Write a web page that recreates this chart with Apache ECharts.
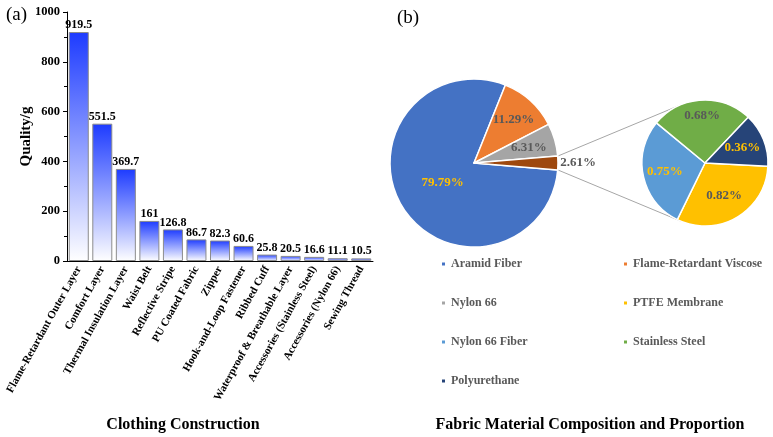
<!DOCTYPE html>
<html>
<head>
<meta charset="utf-8">
<script src="https://cdn.jsdelivr.net/npm/echarts@6/dist/echarts.min.js"></script>
<style>
  html, body { margin: 0; padding: 0; background: #fff; }
  #chart { width: 773px; height: 437px; }
</style>
</head>
<body>
<div id="chart"></div>
<script>
// (a) clothing construction mass, g
const categories = [
  'Flame-Retardant Outer Layer', 'Comfort Layer', 'Thermal Insulation Layer',
  'Waist Belt', 'Reflective Stripe', 'PU Coated Fabric', 'Zipper',
  'Hook-and-Loop Fastener', 'Ribbed Cuff', 'Waterproof & Breathable Layer',
  'Accessories (Stainless Steel)', 'Accessories (Nylon 66)', 'Sewing Thread'
]
const massValues = [919.5, 551.5, 369.7, 161, 126.8, 86.7, 82.3, 60.6, 25.8, 20.5, 16.6, 11.1, 10.5]

// (b) fabric composition, %
const mainNames = ['Aramid Fiber', 'Flame-Retardant Viscose', 'Nylon 66', 'Other']
const mainShares = [79.79, 11.29, 6.31, 2.61]
const subNames = ['PTFE Membrane', 'Nylon 66 Fiber', 'Stainless Steel', 'Polyurethane']
const subShares = [0.82, 0.75, 0.68, 0.36]

const legendLeft = ['Aramid Fiber', 'Nylon 66', 'Nylon 66 Fiber', 'Polyurethane']
const legendRight = ['Flame-Retardant Viscose', 'PTFE Membrane', 'Stainless Steel']

// styles
const font = 'Liberation Serif'
const sliceColors = {
  'Aramid Fiber': '#4472c4',
  'Flame-Retardant Viscose': '#ed7d31',
  'Nylon 66': '#a5a5a5',
  'Other': '#9e480e',
  'PTFE Membrane': '#ffc000',
  'Nylon 66 Fiber': '#5b9bd5',
  'Stainless Steel': '#70ad47',
  'Polyurethane': '#264478',
}
const goldLabels = ['Aramid Fiber', 'Nylon 66 Fiber', 'Polyurethane']
// label distance from centre, as part of the radius
const mainLabelPos = [0.44, 0.7, 0.68, 1.24]
const subLabelPos = [0.6, 0.65, 0.75, 0.64]

const c1 = [474, 163], r1 = 84
const c2 = [705, 163], r2 = 63
const otherAngle = mainShares[3] / 100 * 360

function labelMover(center, radius, factors) {
  return function (params) {
    let lr = params.labelRect
    let lx = lr.x + lr.width / 2
    let ly = lr.y + lr.height / 2
    let vx = lx - center[0], vy = ly - center[1]
    let len = Math.sqrt(vx * vx + vy * vy) || 1
    let f = factors[params.dataIndex]
    return {
      x: center[0] + vx / len * radius * f,
      y: center[1] + vy / len * radius * f,
      align: 'center',
      verticalAlign: 'middle',
    }
  }
}

function sliceData(names, values) {
  return names.map((n, i) => ({
    name: n,
    value: values[i],
    itemStyle: { color: sliceColors[n] },
    label: { color: goldLabels.indexOf(n) >= 0 ? '#ffc000' : '#595959' },
  }))
}

// connector lines from the small slice to the tangents of the second pie
function connectors() {
  let a = otherAngle / 2 * Math.PI / 180
  let p1 = [c1[0] + r1 * Math.cos(a), c1[1] - r1 * Math.sin(a)]
  let p2 = [c1[0] + r1 * Math.cos(a), c1[1] + r1 * Math.sin(a)]
  let out = []
  ;[[p1, 1], [p2, -1]].forEach(([p, s]) => {
    let vx = p[0] - c2[0], vy = p[1] - c2[1]
    let d = Math.sqrt(vx * vx + vy * vy)
    let phi = Math.atan2(vy, vx)
    let psi = phi + s * Math.acos(r2 / d)
    out.push({
      type: 'line',
      z: 1,
      shape: { x1: p[0], y1: p[1], x2: c2[0] + r2 * Math.cos(psi), y2: c2[1] + r2 * Math.sin(psi) },
      style: { stroke: '#a6a6a6', lineWidth: 1 },
    })
  })
  return out
}

const pieLabel = {
  show: true,
  position: 'inside',
  fontFamily: font,
  fontWeight: 'bold',
  fontSize: 13,
  formatter: (p) => p.value.toFixed(2) + '%',
}

const legendStyle = {
  orient: 'vertical',
  icon: 'rect',
  itemWidth: 5,
  itemHeight: 5,
  itemGap: 25,
  top: 252,
  textStyle: { fontFamily: font, fontWeight: 'bold', fontSize: 12, color: '#595959', lineHeight: 14 },
}

const mychart = echarts.init(document.getElementById('chart'))
const option = {
  animation: false,
  textStyle: { fontFamily: font },
  grid: { left: 67, right: 400, top: 12, bottom: 176, outerBoundsMode: 'none', containLabel: false },
  xAxis: {
    type: 'category',
    data: categories,
    axisLine: { lineStyle: { color: '#000', width: 1 } },
    axisTick: { alignWithLabel: true, length: 4, lineStyle: { color: '#000' } },
    axisLabel: {
      interval: 0,
      rotate: 61,
      margin: 6,
      fontFamily: font,
      fontWeight: 'bold',
      fontSize: 11,
      color: '#000',
    },
  },
  yAxis: {
    type: 'value',
    min: 0,
    max: 1000,
    interval: 200,
    name: 'Quality/g',
    nameLocation: 'middle',
    nameGap: 33,
    nameMoveOverlap: false,
    nameTextStyle: { fontFamily: font, fontWeight: 'bold', fontSize: 15, color: '#000' },
    axisLine: { show: true, lineStyle: { color: '#000', width: 1 } },
    axisTick: { show: true, length: 4, lineStyle: { color: '#000' } },
    minorTick: { show: true, splitNumber: 2, length: 3, lineStyle: { color: '#000' } },
    splitLine: { show: false },
    axisLabel: {
      margin: 7,
      fontFamily: font,
      fontWeight: 'bold',
      fontSize: 12.5,
      color: '#000',
      formatter: (v) => String(v),
    },
  },
  legend: [
    Object.assign({ left: 435, data: legendLeft }, legendStyle),
    Object.assign({ left: 617, data: legendRight }, legendStyle),
  ],
  series: [
    {
      type: 'bar',
      data: massValues,
      barWidth: '85%',
      itemStyle: {
        borderColor: '#8c8c8c',
        borderWidth: 1,
        color: new echarts.graphic.LinearGradient(0, 0, 0, 1, [
          { offset: 0, color: '#1d3bff' },
          { offset: 1, color: '#ffffff' },
        ]),
      },
      label: {
        show: true,
        position: 'top',
        distance: 1,
        fontFamily: font,
        fontWeight: 'bold',
        fontSize: 12,
        color: '#000',
      },
    },
    {
      type: 'pie',
      center: c1,
      radius: r1,
      startAngle: 360 - otherAngle / 2,
      clockwise: true,
      avoidLabelOverlap: false,
      itemStyle: { borderColor: '#fff', borderWidth: 1.5 },
      label: pieLabel,
      labelLine: { show: false },
      labelLayout: labelMover(c1, r1, mainLabelPos),
      data: sliceData(mainNames, mainShares),
    },
    {
      type: 'pie',
      center: c2,
      radius: r2,
      startAngle: -3,
      clockwise: true,
      avoidLabelOverlap: false,
      itemStyle: { borderColor: '#fff', borderWidth: 1.5 },
      label: pieLabel,
      labelLine: { show: false },
      labelLayout: labelMover(c2, r2, subLabelPos),
      data: sliceData(subNames, subShares),
    },
  ],
  graphic: [
    { type: 'text', left: 6, top: 6, style: { text: '(a)', font: '19px "Liberation Serif"', fill: '#000' } },
    { type: 'text', left: 397, top: 9, style: { text: '(b)', font: '19px "Liberation Serif"', fill: '#000' } },
    {
      type: 'text', x: 183, y: 425,
      style: { text: 'Clothing Construction', font: 'bold 16px "Liberation Serif"', fill: '#000', align: 'center', verticalAlign: 'middle' },
    },
    {
      type: 'text', x: 590, y: 425,
      style: { text: 'Fabric Material Composition and Proportion', font: 'bold 16px "Liberation Serif"', fill: '#000', align: 'center', verticalAlign: 'middle' },
    },
  ].concat(connectors()),
}
mychart.setOption(option, true)
</script>
</body>
</html>
